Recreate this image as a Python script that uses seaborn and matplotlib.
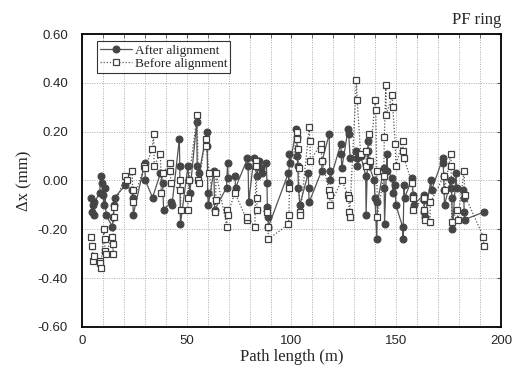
import pandas as pd
import seaborn as sns
import matplotlib.pyplot as plt
from matplotlib.ticker import MultipleLocator, FormatStrFormatter

# After alignment (filled circles)
after_x = [4.5, 5.0, 5.3, 5.6, 6.0, 8.5, 9.0, 9.5, 10.0, 10.5, 11.0, 11.5,
           14.5, 15.0, 15.3, 15.6, 20.7, 24.0, 24.3, 24.5, 30.0, 30.3, 33.7,
           37.5, 38.5, 39.0, 42.5, 43.0, 46.5, 46.7, 47.0, 50.6, 51.0, 51.5,
           54.8, 55.0, 56.0, 59.5, 59.8, 60.0, 60.3, 63.0, 63.3, 69.0, 69.5,
           69.8, 73.0, 73.3, 79.0, 79.3, 79.6, 82.0, 83.5, 84.5, 85.5, 86.0,
           88.0, 88.3, 88.5, 88.8, 89.0, 98.5, 98.7, 99.0, 99.3, 102.3, 102.5,
           102.7, 103.0, 103.3, 104.0, 108.0, 108.2, 108.4, 114.4, 114.6,
           118.0, 118.2, 118.4, 123.5, 123.7, 124.0, 127.0, 127.3, 128.0,
           131.0, 131.2, 131.4, 133.0, 135.4, 135.6, 136.5, 136.7, 137.0,
           139.5, 139.8, 140.7, 141.0, 144.0, 144.2, 144.4, 145.5, 145.8,
           148.0, 148.3, 149.5, 149.8, 153.0, 153.2, 153.7, 154.0, 157.7,
           158.0, 158.3, 163.0, 163.2, 163.4, 163.6, 166.5, 166.8, 172.2,
           172.4, 172.6, 172.8, 173.0, 176.0, 176.3, 176.5, 176.8, 178.5,
           178.8, 182.0, 182.2, 182.4, 182.6, 191.7]
after_y = [-0.07, -0.13, -0.10, -0.14, -0.09, -0.05, 0.02, -0.01, -0.06, -0.10, -0.03, -0.14,
           -0.19, -0.15, -0.10, -0.07, -0.02, -0.04, -0.07, -0.14, 0.07, 0.00, -0.07,
           0.03, -0.01, -0.12, -0.09, -0.10, 0.17, 0.06, -0.18, 0.06, 0.00, -0.05,
           0.24, 0.06, 0.03, 0.20, 0.14, -0.05, -0.10, 0.04, -0.12, -0.03, 0.07,
           0.01, 0.02, -0.03, 0.09, 0.06, -0.09, 0.09, 0.02, 0.08, 0.05, 0.03,
           0.07, -0.01, -0.11, -0.15, -0.19, 0.03, -0.01, 0.11, 0.07, 0.21, 0.18,
           0.10, 0.06, -0.03, -0.10, 0.03, -0.03, -0.09, 0.04, 0.08,
           0.19, 0.04, 0.00, 0.15, 0.11, 0.05, 0.21, 0.19, 0.09,
           0.12, 0.09, 0.06, 0.10, 0.02, -0.14, 0.16, 0.12, 0.06,
           0.00, -0.07, -0.24, -0.09, 0.05, -0.03, -0.18, 0.11, 0.04,
           0.01, -0.05, -0.02, -0.10, -0.19, -0.24, -0.02, -0.07, 0.01,
           -0.06, -0.10, -0.06, -0.08, -0.13, -0.15, 0.00, -0.04, 0.09,
           0.07, 0.02, -0.04, -0.10, 0.00, -0.03, -0.07, -0.20, 0.03,
           -0.03, -0.04, -0.07, -0.13, -0.16, -0.13]

# Before alignment (open squares)
before_x = [4.5, 5.0, 5.3, 5.6, 8.5, 8.8, 9.0, 10.5, 10.8, 11.1, 11.4, 14.5,
            14.7, 14.9, 15.1, 15.3, 20.7, 21.5, 24.0, 24.2, 24.4, 29.8, 30.2,
            33.5, 34.2, 34.5, 37.5, 37.8, 38.5, 42.0, 42.2, 42.4, 46.8, 47.0,
            47.2, 50.5, 50.8, 51.0, 55.0, 55.5, 55.7, 59.0, 59.2, 60.8, 63.5,
            63.8, 64.0, 69.2, 69.3, 69.5, 73.0, 78.6, 79.0, 82.6, 83.0, 83.2,
            83.4, 83.6, 88.5, 88.8, 89.0, 98.5, 98.8, 99.0, 102.6, 102.8, 103.0,
            103.4, 104.0, 104.2, 108.5, 108.8, 109.0, 114.0, 114.2, 114.5,
            118.0, 118.2, 118.4, 124.0, 127.0, 127.3, 127.5, 127.7, 131.0,
            131.3, 133.0, 135.5, 135.7, 137.0, 137.3, 140.0, 140.2, 140.7,
            141.0, 144.0, 144.3, 145.0, 145.3, 148.0, 148.3, 149.5, 149.8,
            153.0, 153.3, 153.7, 157.5, 157.8, 158.1, 163.0, 163.3, 163.6,
            166.0, 166.3, 172.8, 173.0, 176.0, 176.2, 176.4, 179.0, 179.3,
            182.4, 182.6, 191.5, 191.7]
before_y = [-0.23, -0.27, -0.33, -0.31, -0.33, -0.34, -0.36, -0.20, -0.24, -0.29, -0.30, -0.23,
            -0.26, -0.30, -0.15, -0.11, 0.02, 0.00, 0.04, -0.04, -0.09, 0.06, 0.05,
            0.13, 0.19, 0.06, 0.11, -0.05, 0.03, 0.07, 0.04, -0.01, -0.04, 0.00,
            -0.12, -0.12, -0.07, 0.00, 0.27, 0.00, -0.01, 0.17, 0.14, 0.03, -0.13,
            -0.08, 0.03, -0.19, -0.12, -0.14, -0.05, -0.16, -0.15, -0.19, 0.08, 0.06,
            -0.07, -0.12, -0.13, -0.19, -0.24, -0.18, -0.14, -0.03, 0.20, 0.17, 0.13,
            0.05, -0.13, -0.14, 0.22, 0.16, 0.08, 0.15, 0.13, 0.08,
            -0.04, -0.06, -0.10, 0.00, -0.06, -0.07, -0.13, -0.15, 0.41,
            0.33, 0.11, 0.12, 0.06, 0.19, 0.08, 0.33, 0.29, 0.04,
            -0.15, 0.02, 0.18, 0.39, 0.27, 0.35, 0.30, 0.15, 0.06,
            0.16, 0.12, 0.09, -0.01, -0.07, -0.12, -0.07, -0.12, -0.16,
            -0.17, -0.09, 0.02, -0.04, 0.11, 0.06, -0.17, -0.12, -0.16,
            0.04, -0.06, -0.23, -0.27]

sns.set_style("white")
plt.rcParams['font.family'] = ['Liberation Sans', 'DejaVu Sans']
serif = ['Liberation Serif', 'DejaVu Serif']

fig = plt.figure(figsize=(5.15, 3.74), dpi=100)
ax = fig.add_axes([0.159, 0.126, 0.814, 0.783])

df_after = pd.DataFrame({"x": after_x, "y": after_y})
df_before = pd.DataFrame({"x": before_x, "y": before_y})

sns.lineplot(data=df_after, x="x", y="y", ax=ax, sort=False, estimator=None,
             color="#555555", linewidth=0.9, marker="o", markersize=5,
             markerfacecolor="#454545", markeredgecolor="#454545",
             label="After alignment", zorder=3)
sns.lineplot(data=df_before, x="x", y="y", ax=ax, sort=False, estimator=None,
             color="#555555", linewidth=0.9, linestyle=(0, (1, 1.5)), marker="s",
             markersize=5, markerfacecolor="white", markeredgecolor="#404040",
             markeredgewidth=0.9, label="Before alignment", zorder=4)

ax.set_xlim(0, 200)
ax.set_ylim(-0.6, 0.6)
ax.xaxis.set_major_locator(MultipleLocator(50))
ax.xaxis.set_minor_locator(MultipleLocator(10))
ax.yaxis.set_major_locator(MultipleLocator(0.2))
ax.yaxis.set_major_formatter(FormatStrFormatter("%.2f"))
ax.grid(True, which="minor", axis="x", color="#aaaaaa", linestyle=(0, (1, 1.5)), linewidth=0.7)
ax.grid(True, which="major", axis="both", color="#aaaaaa", linestyle=(0, (1, 1.5)), linewidth=0.7)
ax.tick_params(which="both", direction="in", top=True, right=True, labelsize=9.5,
               length=3, color="#555555")
ax.tick_params(axis="x", pad=6)
ax.tick_params(axis="y", pad=10)
for s in ax.spines.values():
    s.set_color("black")
    s.set_linewidth(1.3)

ax.set_xlabel("Path length (m)", fontsize=12, family=serif, labelpad=1)
ax.set_ylabel("\u0394x (mm)", fontsize=12, family=serif, labelpad=4)
ax.set_title("PF ring", loc="right", fontsize=12, family=serif, pad=7)

leg = ax.legend(loc="upper left", bbox_to_anchor=(0.036, 0.975), borderaxespad=0,
                frameon=True, fancybox=False, prop={"family": serif, "size": 9.5},
                handlelength=2.4, borderpad=0.25, labelspacing=0.05, handletextpad=0.2)
leg.get_frame().set_edgecolor("black")
leg.get_frame().set_linewidth(0.8)

fig.savefig("out.png", dpi=100)
